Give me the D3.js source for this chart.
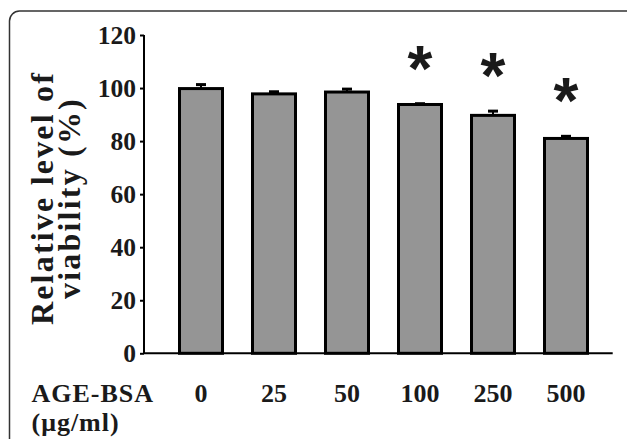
<!DOCTYPE html>
<html>
<head>
<meta charset="utf-8">
<script src="https://cdn.jsdelivr.net/npm/d3@7"></script>
<style>
  html, body { margin: 0; padding: 0; background: #fff; }
  svg { display: block; }
  text { font-family: "Liberation Serif", "Times New Roman", serif; font-weight: bold; fill: #1a1a1a; }
</style>
</head>
<body>
<script>
const width = 627;
const height = 439;

// data
const doses = ['0', '25', '50', '100', '250', '500'];
const viability = [99.8, 97.8, 98.5, 93.8, 89.7, 81.0];
const errors = [1.5, 0.8, 1.1, 0.3, 1.6, 0.8];
const significant = [false, false, false, true, true, true];
const yTicks = [0, 20, 40, 60, 80, 100, 120];

const svg = d3.select('body').append('svg')
    .attr('width', width)
    .attr('height', height);

// panel frame (rounded corner at top-left, runs off the page right and bottom)
svg.append('rect')
    .attr('x', 9.5)
    .attr('y', 11)
    .attr('width', 630)
    .attr('height', 460)
    .attr('rx', 10)
    .attr('fill', 'none')
    .attr('stroke', '#333')
    .attr('stroke-width', 1.5);

const axisX = 144;
const xScale = d3.scalePoint().domain(doses).range([164.5, 602.5]).padding(0.5);
const yScale = d3.scaleLinear().domain([0, 120]).range([353.3, 35]);
const barW = 43;

// bars
svg.append('g').classed('bars', true)
    .selectAll('rect')
    .data(doses)
    .enter().append('rect')
    .attr('x', d => xScale(d) - barW / 2)
    .attr('y', (d, i) => yScale(viability[i]))
    .attr('width', barW)
    .attr('height', (d, i) => yScale(0) - yScale(viability[i]))
    .attr('fill', '#959595')
    .attr('stroke', '#000')
    .attr('stroke-width', 3);

// error bars (upper only)
const err = svg.append('g').classed('errors', true)
    .attr('stroke', '#000');
err.selectAll('line.stem')
    .data(doses)
    .enter().append('line')
    .classed('stem', true)
    .attr('x1', d => xScale(d))
    .attr('x2', d => xScale(d))
    .attr('y1', (d, i) => yScale(viability[i]))
    .attr('y2', (d, i) => yScale(viability[i] + errors[i]))
    .attr('stroke-width', 2);
err.selectAll('line.cap')
    .data(doses)
    .enter().append('line')
    .classed('cap', true)
    .attr('x1', d => xScale(d) - 5)
    .attr('x2', d => xScale(d) + 5)
    .attr('y1', (d, i) => yScale(viability[i] + errors[i]))
    .attr('y2', (d, i) => yScale(viability[i] + errors[i]))
    .attr('stroke-width', 3);

// significance marks
svg.append('g').classed('stars', true)
    .selectAll('text')
    .data(doses.filter((d, i) => significant[i]))
    .enter().append('text')
    .attr('x', d => xScale(d))
    .attr('y', d => {
        const i = doses.indexOf(d);
        return yScale(viability[i] + errors[i]) - 49 + 36;
    })
    .attr('text-anchor', 'middle')
    .style('font-family', '"Liberation Sans", Arial, sans-serif')
    .style('font-size', '64px')
    .text('*');

// y axis
const yAxis = d3.axisLeft(yScale).tickValues(yTicks).tickSize(4).tickPadding(4);
const yAxisGroup = svg.append('g')
    .classed('yAxis', true)
    .attr('transform', `translate(${axisX},0)`)
    .call(yAxis);
yAxisGroup.select('.domain').remove();
yAxisGroup.selectAll('.tick line').attr('stroke', '#000').attr('stroke-width', 2);
yAxisGroup.selectAll('.tick text')
    .style('font-family', '"Liberation Serif", serif')
    .style('font-weight', 'bold')
    .style('font-size', '25.5px')
    .attr('fill', '#1a1a1a');
svg.append('line')
    .attr('x1', axisX).attr('x2', axisX)
    .attr('y1', yScale(120)).attr('y2', yScale(0))
    .attr('stroke', '#000').attr('stroke-width', 2);

// x axis baseline
svg.append('line')
    .attr('x1', axisX).attr('x2', 612.7)
    .attr('y1', yScale(0)).attr('y2', yScale(0))
    .attr('stroke', '#000').attr('stroke-width', 2);

// x tick labels
svg.append('g').classed('xLabels', true)
    .selectAll('text')
    .data(doses)
    .enter().append('text')
    .attr('x', d => xScale(d))
    .attr('y', 402)
    .attr('text-anchor', 'middle')
    .style('font-size', '26px')
    .text(d => d);

svg.append('text')
    .attr('x', 31.5)
    .attr('y', 402)
    .style('font-size', '26px')
    .style('letter-spacing', '1px')
    .text('AGE-BSA');
svg.append('text')
    .attr('x', 31.5)
    .attr('y', 431)
    .style('font-size', '26px')
    .style('letter-spacing', '1px')
    .text('(μg/ml)');

// y axis title, two lines
const yTitle = svg.append('text')
    .attr('transform', 'translate(0,198) rotate(-90)')
    .attr('text-anchor', 'middle')
    .style('font-size', '32px')
    .style('letter-spacing', '2.2px');
yTitle.append('tspan').attr('x', 0).attr('y', 53).text('Relative level of');
yTitle.append('tspan').attr('x', 0).attr('y', 80).text('viability (%)');
</script>
</body>
</html>
